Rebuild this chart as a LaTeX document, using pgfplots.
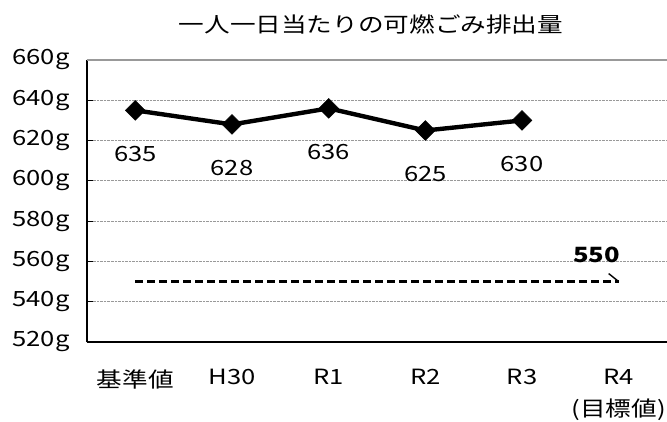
\documentclass[border=0pt]{standalone}
\usepackage{fontspec}
\setmainfont{Noto Sans CJK JP}[FakeStretch=1.22]
\usepackage{pgfplots}
\pgfplotsset{compat=1.18}
\begin{document}
\begin{tikzpicture}[font=\fontsize{21bp}{26bp}\selectfont]
\begin{axis}[
  name=ax,
  scale only axis,
  width=580bp, height=282bp,
  xmin=-0.5, xmax=5.5,
  ymin=520, ymax=660,
  ytick={520,540,...,660},
  yticklabels={520g,540g,560g,580g,600g,620g,640g,660g},
  xtick={0,...,5},
  xticklabels={基準値,H30,R1,R2,R3,{R4\\(目標値)}},
  xticklabel style={align=center, text depth=0pt, font=\fontsize{21bp}{32bp}\selectfont},
  x tick label style={yshift=-24bp},
  major x tick style={draw=none},
  extra x ticks={0.5,1.5,2.5,3.5,4.5},
  extra x tick labels={},
  extra x tick style={major tick length=6bp, tick style={black, line width=1pt}},
  tick align=inside,
  major tick length=6bp,
  tick style={black, line width=1pt},
  ymajorgrids,
  grid style={gray!80, densely dotted, line width=1pt},
  axis x line*=bottom,
  axis y line*=left,
  axis line style={black, line width=1.6pt, -},
  clip=false,
  /pgf/number format/assume math mode=true,
  every node near coord/.append style={anchor=center, yshift=-44bp, black, font=\fontsize{21bp}{26bp}\selectfont},
  y tick label style={xshift=-14bp, font=\fontsize{21bp}{26bp}\selectfont},
]
\draw[gray!80, line width=1.4pt] (axis cs:-0.5,660) -- (axis cs:5.5,660);
\addplot[black, line width=4.4pt, mark=square*, mark size=7bp,
  mark options={rotate=45, solid, line width=0.5pt}, nodes near coords]
  coordinates {(0,635) (1,628) (2,636) (3,625) (4,630)};
\addplot[black, line width=2.8pt, dash pattern=on 8bp off 4bp]
  coordinates {(0,550) (5,550)};
\addplot[draw=none, mark=none, nodes near coords={\bfseries 550},
  every node near coord/.style={anchor=center, xshift=-22bp, yshift=27bp, black, font=\fontsize{21bp}{26bp}\selectfont}]
  coordinates {(5,550)};
\draw[black, line width=1.4pt] (axis cs:5,550) -- ++(-10bp,8bp);
\end{axis}
\node[anchor=center] at ([xshift=-6bp,yshift=36bp]ax.north) {一人一日当たりの可燃ごみ排出量};
\pgfresetboundingbox
\path ([xshift=-87bp,yshift=-80bp]ax.south west) rectangle ([yshift=60bp]ax.north east);
\end{tikzpicture}
\end{document}
